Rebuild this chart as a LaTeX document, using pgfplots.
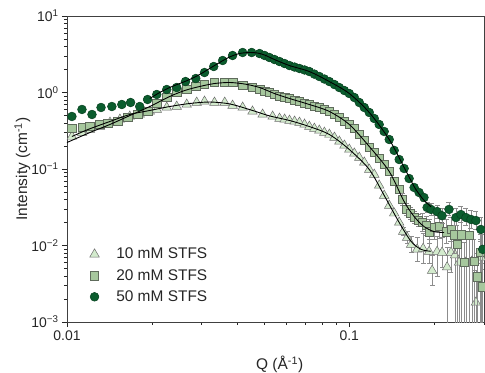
\documentclass[border=0pt]{standalone}
\usepackage{pgfplots}
\pgfplotsset{compat=1.18}
\usepackage{pgfplotstable}
\usepackage{fontspec}
\setmainfont{Liberation Sans}
\definecolor{cfifty}{HTML}{0B5D2E}
\definecolor{cfiftyedge}{HTML}{07401F}
\definecolor{ctwenty}{HTML}{A6C79D}
\definecolor{ctwentyedge}{HTML}{5F6B5C}
\definecolor{cten}{HTML}{D3EBCD}
\definecolor{ctenedge}{HTML}{6B6B6B}
\definecolor{errc}{HTML}{8C8C8C}

\pgfplotstableread{
x y
0.01041 0.266
0.01130 0.300
0.01205 0.328
0.01308 0.359
0.01420 0.405
0.01540 0.444
0.01669 0.486
0.01810 0.516
0.01965 0.565
0.02080 0.599
0.02256 0.637
0.02447 0.656
0.02655 0.697
0.02880 0.740
0.03070 0.763
0.03330 0.740
0.03620 0.740
0.03860 0.676
0.04190 0.637
0.04540 0.565
0.04930 0.516
0.05350 0.486
0.05660 0.457
0.05900 0.444
0.06140 0.430
0.06400 0.418
0.06660 0.405
0.06940 0.382
0.07220 0.359
0.07520 0.338
0.07830 0.319
0.08160 0.300
0.08500 0.2825
0.08860 0.258
0.09220 0.229
0.09610 0.203
0.1000 0.180
0.1042 0.160
0.1085 0.141
0.1130 0.122
0.1177 0.0985
0.1226 0.0847
0.1276 0.0610
0.1329 0.0450
0.1385 0.0333
0.1442 0.0264
0.1502 0.0200
}\tenlo

\pgfplotstableread{
x y ep em
0.1552 0.0152 0.0019 0.0017
0.1603 0.0127 0.0025 0.0021
0.1656 0.0103 0.0028 0.0022
0.1739 0.0089 0.0039 0.0027
0.1826 0.0091 0.0052 0.0033
0.1917 0.0083 0.0036 0.0025
0.1965 0.0047 0.0027 0.0017
0.2046 0.0083 0.0047 0.0044
0.2131 0.0081 0.0046 0.0029
0.2220 0.0052 0.0043 0.0044
0.2292 0.0081 0.0067 0.0036
0.2369 0.0075 0.0050 0.0067
0.2447 0.0060 0.0060 0.0052
0.2589 0.0060 0.0060 0.0052
0.2720 0.0062 0.0060 0.0054
0.2809 0.0018 0.0030 0.0010
0.2925 0.0070 0.0050 0.0062
}\tenhi

\pgfplotstableread{
x y
0.01041 0.338
0.01130 0.349
0.01205 0.359
0.01308 0.382
0.01396 0.393
0.01514 0.418
0.01642 0.471
0.01781 0.516
0.01930 0.565
0.02080 0.718
0.02256 0.860
0.02447 1.000
0.02655 1.094
0.02856 1.198
0.03070 1.272
0.03330 1.351
0.03620 1.351
0.03860 1.351
0.04190 1.234
0.04540 1.163
0.04810 1.094
0.05010 1.046
0.05210 1.000
0.05430 0.942
0.05660 0.887
0.05900 0.860
0.06140 0.835
0.06400 0.798
0.06660 0.763
0.06940 0.729
0.07220 0.697
0.07520 0.666
0.07830 0.637
0.08160 0.599
0.08500 0.565
0.08860 0.516
0.09220 0.471
0.09610 0.424
0.1000 0.382
0.1042 0.338
0.1085 0.2825
0.1130 0.2358
0.1177 0.191
0.1226 0.1643
0.1276 0.1372
0.1329 0.1145
0.1385 0.0928
0.1442 0.0687
0.1502 0.0540
}\twentylo

\pgfplotstableread{
x y ep em
0.1539 0.0399 0.0079 0.0066
0.1590 0.0296 0.0059 0.0049
0.1643 0.0262 0.0052 0.0043
0.1697 0.0232 0.0046 0.0038
0.1753 0.0212 0.0042 0.0035
0.1811 0.0200 0.0060 0.0045
0.1870 0.0183 0.0060 0.0045
0.1917 0.0152 0.0066 0.0046
0.1997 0.0172 0.0075 0.0052
0.2080 0.0177 0.0077 0.0054
0.2201 0.0152 0.0066 0.0046
0.2292 0.0162 0.0070 0.0049
0.2350 0.0139 0.0080 0.0060
0.2407 0.0103 0.0080 0.0094
0.2486 0.0139 0.0090 0.0130
0.2548 0.0060 0.0050 0.0052
0.2655 0.0135 0.0090 0.0127
0.2765 0.0062 0.0060 0.0054
0.2833 0.0039 0.0040 0.0031
0.2904 0.0081 0.0060 0.0073
0.2951 0.0029 0.0030 0.0021
}\twentyhi

\pgfplotstableread{
x y
0.01041 0.486
0.01130 0.600
0.01226 0.516
0.01320 0.637
0.01442 0.656
0.01564 0.697
0.01680 0.740
0.01810 0.656
0.01930 0.810
0.02080 0.942
0.02256 1.094
0.02447 1.163
0.02630 1.392
0.02860 1.524
0.03070 1.825
0.03310 2.187
0.03560 2.620
0.03860 3.046
0.04190 3.333
0.04510 3.333
0.04810 3.230
0.05010 3.050
0.05210 2.870
0.05430 2.700
0.05660 2.540
0.05900 2.390
0.06140 2.250
0.06400 2.150
0.06660 2.060
0.06940 1.970
0.07220 1.880
0.07520 1.740
0.07830 1.620
0.08160 1.500
0.08500 1.390
0.08860 1.270
0.09220 1.160
0.09610 1.060
0.1000 0.970
0.1042 0.860
0.1085 0.740
0.1130 0.637
0.1177 0.548
0.1226 0.457
0.1276 0.382
0.1329 0.309
0.1385 0.243
0.1442 0.175
0.1502 0.133
}\fiftylo

\pgfplotstableread{
x y ep em
0.1564 0.1015 0.008 0.007
0.1629 0.0751 0.006 0.005
0.1697 0.0573 0.005 0.004
0.1767 0.0493 0.005 0.004
0.1839 0.0424 0.005 0.004
0.1887 0.0314 0.005 0.004
0.1948 0.0296 0.006 0.005
0.2046 0.0278 0.006 0.005
0.2131 0.0245 0.006 0.005
0.2255 0.0296 0.007 0.005
0.2387 0.0232 0.007 0.005
0.2486 0.0254 0.007 0.005
0.2589 0.0232 0.007 0.005
0.2697 0.0219 0.007 0.005
0.2809 0.0212 0.007 0.005
0.2925 0.0162 0.007 0.005
0.2970 0.0089 0.005 0.004
}\fiftyhi

\pgfplotstableread{
x y
0.01965 0.835
0.02131 1.000
0.02312 1.163
0.02508 1.311
0.02720 1.479
0.02951 1.720
0.03201 2.060
0.03472 2.466
0.03767 2.911
0.04086 3.235
0.04432 3.333
0.04730 3.283
0.05010 3.092
0.05430 2.700
0.06140 2.250
0.07220 1.880
0.08500 1.390
0.1000 0.970
0.1177 0.548
0.1385 0.243
0.1564 0.1046
0.1697 0.0590
0.1767 0.0470
0.1839 0.0390
0.1948 0.0320
}\fiftyfit

\pgfplotstableread{
x y
0.01000 0.222
0.01206 0.300
0.01419 0.382
0.01670 0.500
0.01965 0.656
0.02312 0.887
0.02612 1.062
0.02951 1.198
0.03334 1.311
0.03767 1.351
0.04256 1.291
0.04809 1.163
0.05430 0.970
0.06138 0.835
0.07220 0.697
0.08500 0.565
0.1000 0.382
0.1177 0.197
0.1385 0.0928
0.1564 0.0376
0.1697 0.0239
0.1839 0.0177
0.1997 0.0152
0.2166 0.0148
}\twentyfit

\pgfplotstableread{
x y
0.01041 0.266
0.01186 0.328
0.01419 0.418
0.01670 0.516
0.01965 0.582
0.02312 0.656
0.02720 0.718
0.03201 0.751
0.03767 0.710
0.04432 0.599
0.05215 0.495
0.06138 0.431
0.07220 0.359
0.08500 0.2825
0.1000 0.180
0.1177 0.0985
0.1330 0.0450
0.1502 0.0200
0.1656 0.0113
0.1796 0.0089
0.1948 0.0084
}\tenfit

\begin{document}
\begin{tikzpicture}
\useasboundingbox (-67bp,-51bp) rectangle (418bp,322bp);
\begin{axis}[
  at={(0,0)}, anchor=south west,
  scale only axis, width=417bp, height=306bp,
  xmode=log, ymode=log,
  xmin=0.01, xmax=0.3, ymin=1e-3, ymax=10,
  xtick={0.01,0.1}, xticklabels={0.01,0.1},
  minor xtick={0.02,0.03,0.04,0.05,0.06,0.07,0.08,0.09,0.2,0.3},
  ytick={0.001,0.01,0.1,1,10},
  yticklabels={10\textsuperscript{−3},10\textsuperscript{−2},10\textsuperscript{−1},10\textsuperscript{0},10\textsuperscript{1}},
  minor ytick={0.002,0.003,0.004,0.005,0.006,0.007,0.008,0.009,0.02,0.03,0.04,0.05,0.06,0.07,0.08,0.09,0.2,0.3,0.4,0.5,0.6,0.7,0.8,0.9,2,3,4,5,6,7,8,9},
  xtick pos=bottom, ytick pos=left, tick align=outside,
  major tick length=5bp, minor tick length=3bp,
  every tick/.style={black!85, line width=0.7pt},
  axis line style={black!75, line width=0.8pt},
  tick label style={font=\fontsize{14}{16}\selectfont, text=black!85},
  label style={font=\fontsize{15.5}{18}\selectfont, text=black!85},
  xlabel={Q (Å\textsuperscript{-1})},
  ylabel={Intensity (cm\textsuperscript{-1})},
  xlabel style={at={(axis description cs:0.51,-0.14)}, anchor=center},
  ylabel style={at={(axis description cs:-0.107,0.5)}, anchor=center},
  legend style={at={(axis description cs:0.047,0.255)}, anchor=north west, draw=none, fill=none,
    font=\fontsize{15.5}{18}\selectfont, row sep=5bp, text=black!85,
    /tikz/every odd column/.append style={column sep=15bp}},
  legend cell align=left,
  clip mode=individual,
]
% 10 mM
\addplot[only marks, mark=triangle*, mark size=5.5bp, mark options={fill=cten, draw=ctenedge, line width=0.5pt}]
  table[x=x,y=y] {\tenlo};
\addlegendentry{10 mM STFS}
\addplot[only marks, mark=triangle*, mark size=5.5bp, mark options={fill=cten, draw=ctenedge, line width=0.5pt},
  forget plot, error bars/.cd, y dir=both, y explicit,
  error bar style={errc, line width=0.6pt}, error mark options={rotate=90, mark size=2.5bp, errc, line width=0.6pt}]
  table[x=x,y=y,y error plus=ep,y error minus=em] {\tenhi};
% 20 mM
\addplot[only marks, mark=square*, mark size=4.2bp, mark options={fill=ctwenty, draw=ctwentyedge, line width=0.5pt}]
  table[x=x,y=y] {\twentylo};
\addlegendentry{20 mM STFS}
\addplot[only marks, mark=square*, mark size=4.2bp, mark options={fill=ctwenty, draw=ctwentyedge, line width=0.5pt},
  forget plot, error bars/.cd, y dir=both, y explicit,
  error bar style={errc, line width=0.6pt}, error mark options={rotate=90, mark size=2.5bp, errc, line width=0.6pt}]
  table[x=x,y=y,y error plus=ep,y error minus=em] {\twentyhi};
% 50 mM
\addplot[only marks, mark=*, mark size=4.4bp, mark options={fill=cfifty, draw=cfiftyedge, line width=0.5pt}]
  table[x=x,y=y] {\fiftylo};
\addlegendentry{50 mM STFS}
\addplot[only marks, mark=*, mark size=4.4bp, mark options={fill=cfifty, draw=cfiftyedge, line width=0.5pt},
  forget plot, error bars/.cd, y dir=both, y explicit,
  error bar style={errc, line width=0.6pt}, error mark options={rotate=90, mark size=2.5bp, errc, line width=0.6pt}]
  table[x=x,y=y,y error plus=ep,y error minus=em] {\fiftyhi};
% fits
\addplot[black, line width=0.9pt, smooth, no marks, forget plot] table[x=x,y=y] {\tenfit};
\addplot[black, line width=0.9pt, smooth, no marks, forget plot] table[x=x,y=y] {\twentyfit};
\addplot[black, line width=0.9pt, smooth, no marks, forget plot] table[x=x,y=y] {\fiftyfit};
\end{axis}
\end{tikzpicture}
\end{document}
